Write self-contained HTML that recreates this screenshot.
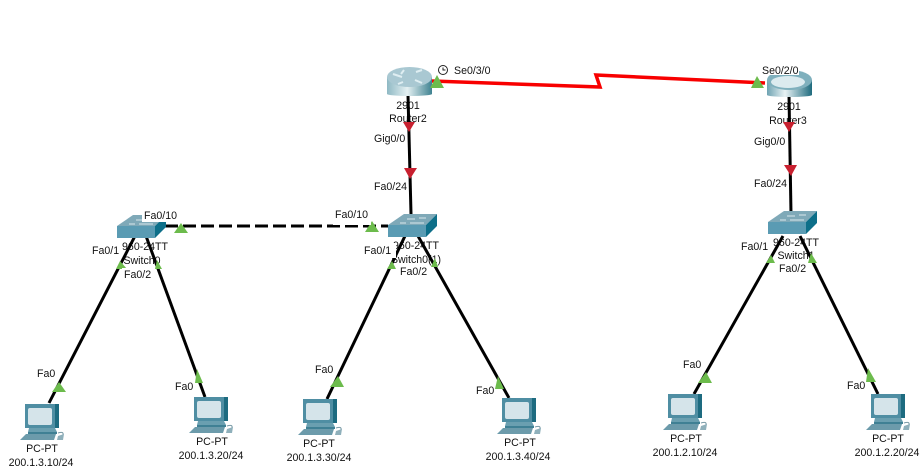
<!DOCTYPE html>
<html><head><meta charset="utf-8"><style>
html,body{margin:0;padding:0;background:#fff}
svg{display:block}
text{font-family:"Liberation Sans",sans-serif;font-size:10.6px;fill:#111}
.m{text-anchor:middle}
.l{stroke:#000;stroke-width:3;fill:none}
.w{fill:#fff}
</style></head><body>
<svg width="924" height="470" viewBox="0 0 924 470" xmlns="http://www.w3.org/2000/svg">
<defs>
<linearGradient id="rg" x1="0" x2="1" y1="0" y2="0"><stop offset="0" stop-color="#8fb9c4"/><stop offset=".45" stop-color="#e4f0f2"/><stop offset="1" stop-color="#3f8291"/></linearGradient>
<linearGradient id="rg2" x1="0" x2="1" y1="0" y2="0"><stop offset="0" stop-color="#6fa3b2"/><stop offset=".4" stop-color="#e8f2f4"/><stop offset="1" stop-color="#1f6b7e"/></linearGradient>
<g id="sw">
<polygon points="0,11 16,0 49,0 38,11" fill="#7fa9b8"/>
<rect x="0" y="11" width="38" height="12" fill="#5a9bb3"/>
<polygon points="38,11 49,0 49,12 38,23" fill="#0d6f89"/>
<path d="M19 5h8M31 4h7M12 9h6M22 9h14" stroke="#d8e8ec" stroke-width="1"/>
</g>
<g id="pc">
<rect x="0" y="0" width="30" height="24" fill="#4f8ea3"/>
<polygon points="30,0 34,0 34,24 30,24" fill="#1d6b80"/>
<rect x="3" y="4" width="24" height="17" rx="2" fill="#d5e4ea"/>
<polygon points="4,24 30,24 32,28 3,28" fill="#6a9fb0"/>
<rect x="3" y="28" width="29" height="2" fill="#3f8094"/>
<polygon points="1,30 31,30 29,36 -5,36" fill="#6c9bab"/>
<path d="M33 29q6-2 5 2" stroke="#7a9aa6" fill="none"/>
<polygon points="33,32 39,30 38,36 32,36" fill="#8fb0bb"/>
</g>
</defs>
<rect width="924" height="470" fill="#fff"/>

<!-- device labels -->
<text class="m" x="408" y="109">2901</text>
<text class="m" x="408" y="122">Router2</text>
<text class="m" x="789" y="110">2901</text>
<text class="m" x="788" y="124">Router3</text>
<text class="m" x="145" y="250">960-24TT</text>
<text class="m" x="142" y="264">Switch0</text>
<text class="m" x="416" y="249">960-24TT</text>
<text class="m" x="416" y="263">Switch0(1)</text>
<text class="m" x="796" y="246">960-24TT</text>
<text class="m" x="796" y="259">Switch1</text>
<text class="m" x="42" y="452">PC-PT</text>
<text class="m" x="41" y="466">200.1.3.10/24</text>
<text class="m" x="212" y="445">PC-PT</text>
<text class="m" x="211" y="459">200.1.3.20/24</text>
<text class="m" x="319" y="447">PC-PT</text>
<text class="m" x="319" y="461">200.1.3.30/24</text>
<text class="m" x="520" y="446">PC-PT</text>
<text class="m" x="518" y="460">200.1.3.40/24</text>
<text class="m" x="686" y="442">PC-PT</text>
<text class="m" x="685" y="456">200.1.2.10/24</text>
<text class="m" x="888" y="442">PC-PT</text>
<text class="m" x="887" y="456">200.1.2.20/24</text>

<!-- links -->
<path d="M432 81L600 87L596 75L765 83" fill="none" stroke="#f80000" stroke-width="3.500"/>
<path class="l" d="M408 95L411 214"/>
<path class="l" d="M789 95L791 214"/>
<path class="l" d="M165 226H388" stroke-dasharray="13 5"/>
<path class="l" d="M135 236L49 403"/>
<path class="l" d="M146 236L205 397"/>
<path class="l" d="M405 236L327 399"/>
<path class="l" d="M418 236L509 398"/>
<path class="l" d="M783 236L694 394"/>
<path class="l" d="M800 236L878 394"/>

<!-- routers -->
<rect x="387" y="77" width="45" height="17" fill="url(#rg)"/>
<ellipse cx="409.500" cy="94" rx="22.500" ry="2" fill="url(#rg)"/>
<ellipse cx="409.500" cy="77" rx="22.500" ry="10" fill="#a9c8d2"/>
<path d="M393 74l9 3M404 70l-3 4M416 72l6-2M415 80l7 3M403 82l-5 2" stroke="#dfeef2" stroke-width="2"/>
<rect x="767" y="80" width="45" height="15" fill="url(#rg2)"/>
<ellipse cx="789.500" cy="95" rx="22.500" ry="2" fill="url(#rg2)"/>
<ellipse cx="789.500" cy="80" rx="22.500" ry="10" fill="#7fb0bd"/>
<ellipse cx="788" cy="82" rx="17" ry="6" fill="#dcebef"/>

<!-- switches -->
<use href="#sw" x="117" y="215"/>
<use href="#sw" x="388" y="214"/>
<use href="#sw" x="768" y="211"/>

<!-- PCs -->
<use href="#pc" x="25" y="404"/>
<use href="#pc" x="194" y="397"/>
<use href="#pc" x="303" y="399"/>
<use href="#pc" x="502" y="398"/>
<use href="#pc" x="668" y="394"/>
<use href="#pc" x="871" y="394"/>

<!-- arrows: red -->
<g fill="#c8202f">
<polygon points="403,122 415,122 409,132"/>
<polygon points="404,168 417,168 410,179"/>
<polygon points="783,122 795,122 789,132"/>
<polygon points="784,165 797,165 791,176"/>
</g>
<!-- arrows: green -->
<g fill="#6cbb4c">
<polygon points="437,75 444,88 430,88"/>
<polygon points="757,76 764,88 751,88"/>
<polygon points="181,223 188,233 174,233"/>
<polygon points="372,221 379,232 365,232"/>
<polygon points="120,261 127,269 116,269"/>
<polygon points="157,260 162,269 155,269"/>
<polygon points="392,261 396,269 387,269"/>
<polygon points="435,258 438,267 431,267"/>
<polygon points="771,255 775,263 766,263"/>
<polygon points="811,253 817,263 808,263"/>
<polygon points="59,382 66,392 52,392"/>
<polygon points="197,369 203,383 195,383"/>
<polygon points="338,376 344,387 330,387"/>
<polygon points="498,376 504,389 495,389"/>
<polygon points="706,372 712,383 698,383"/>
<polygon points="868,368 876,382 866,382"/>
</g>

<!-- clock -->
<circle cx="443" cy="70" r="4.500" fill="#fff" stroke="#222" stroke-width="1"/>
<path d="M443 67.500V70H445.500" stroke="#222" fill="none" stroke-width="1"/>

<!-- port label backgrounds -->
<rect class="w" x="142" y="208" width="38" height="14"/>
<rect class="w" x="333" y="208" width="38" height="17"/>
<rect class="w" x="122" y="268" width="32" height="13"/>
<rect class="w" x="364" y="243" width="32" height="15"/>
<rect class="w" x="400" y="265" width="28" height="13"/>
<rect class="w" x="778" y="261" width="30" height="13"/>
<rect class="w" x="762" y="64" width="37" height="11"/>

<!-- port labels -->
<text x="454" y="74">Se0/3/0</text>
<text x="762" y="74">Se0/2/0</text>
<text x="374" y="142">Gig0/0</text>
<text x="754" y="145">Gig0/0</text>
<text x="374" y="190">Fa0/24</text>
<text x="754" y="187">Fa0/24</text>
<text x="144" y="219">Fa0/10</text>
<text x="335" y="218">Fa0/10</text>
<text x="92" y="254">Fa0/1</text>
<text x="124" y="278">Fa0/2</text>
<text x="364" y="254">Fa0/1</text>
<text x="400" y="275">Fa0/2</text>
<text x="741" y="250">Fa0/1</text>
<text x="779" y="272">Fa0/2</text>
<text x="37" y="377">Fa0</text>
<text x="175" y="390">Fa0</text>
<text x="315" y="373">Fa0</text>
<text x="476" y="394">Fa0</text>
<text x="683" y="368">Fa0</text>
<text x="847" y="389">Fa0</text>
</svg>
</body></html>
